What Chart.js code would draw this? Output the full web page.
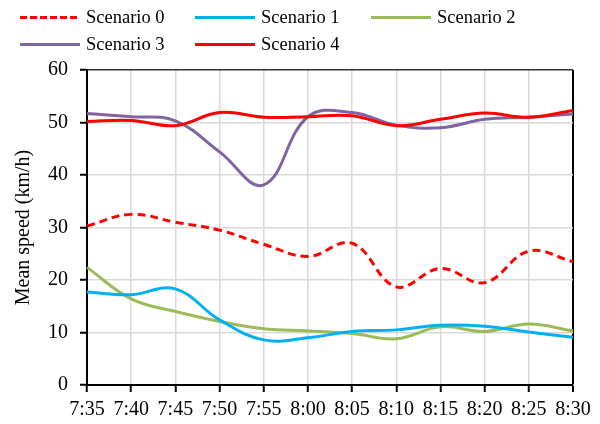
<!DOCTYPE html>
<html>
<head>
<meta charset="utf-8">
<script src="https://cdn.jsdelivr.net/npm/chart.js@4/dist/chart.umd.min.js"></script>
<style>
  body { margin: 0; background: #fff; }
  #wrap { position: relative; width: 600px; height: 424px; }
  #legend {
    position: absolute; left: 20px; top: 6px;
    display: grid; grid-template-columns: 175px 176px 175px; row-gap: 5px;
    font-family: 'Liberation Serif', 'Times New Roman', serif; font-size: 18.5px; color: #000;
  }
  .item { display: flex; align-items: center; height: 22px; white-space: nowrap; }
  .swatch { width: 60px; height: 3px; margin-right: 6px; }
</style>
</head>
<body>
<div id="wrap">
  <canvas id="chart" width="600" height="424"></canvas>
  <div id="legend"></div>
</div>
<script>
// time of day along the x axis
const times = ['7:35', '7:40', '7:45', '7:50', '7:55', '8:00', '8:05', '8:10', '8:15', '8:20', '8:25', '8:30'];

// mean speed (km/h)
const scenario0 = [30.3, 32.5, 31.0, 29.5, 26.8, 24.5, 27.0, 18.7, 22.2, 19.5, 25.5, 23.5];
const scenario1 = [17.7, 17.2, 18.3, 12.4, 8.6, 9.0, 10.2, 10.5, 11.4, 11.2, 10.1, 9.1];
const scenario2 = [22.4, 16.4, 14.0, 12.1, 10.7, 10.3, 9.8, 8.8, 11.1, 10.2, 11.6, 10.3];
const scenario3 = [51.7, 51.1, 50.3, 44.4, 38.1, 51.1, 51.9, 49.5, 49.0, 50.6, 51.0, 51.6];
const scenario4 = [50.2, 50.4, 49.4, 51.9, 51.0, 51.1, 51.3, 49.4, 50.6, 51.8, 51.0, 52.3];

const seriesNames = ['Scenario 0', 'Scenario 1', 'Scenario 2', 'Scenario 3', 'Scenario 4'];
const yTicks = { min: 0, max: 60, step: 10 };

Chart.defaults.font.family = "'Liberation Serif', 'Times New Roman', serif";
Chart.defaults.color = '#000';

function line(name, data, color, dash, order)
{
  return {
    label: name,
    data: data,
    borderColor: color,
    backgroundColor: color,
    borderWidth: 3,
    borderDash: dash,
    pointRadius: 0,
    tension: 0.4,
    fill: false,
    order: order
  };
}

let ctx = document.getElementById('chart').getContext('2d');
let chart = new Chart(ctx,
{
  type: 'line',
  data:
  {
    labels: times,
    datasets: [
      line(seriesNames[0], scenario0, '#FF0000', [8, 5], 1),
      line(seriesNames[1], scenario1, '#00B0F0', [], 1),
      line(seriesNames[2], scenario2, '#9BBB59', [], 1),
      line(seriesNames[3], scenario3, '#8064A2', [], 1),
      line(seriesNames[4], scenario4, '#FF0000', [], 0)
    ]
  },
  options:
  {
    responsive: false,
    animation: false,
    layout: { padding: { top: 70, right: 27, left: 0, bottom: 0 } },
    plugins: { legend: { display: false }, tooltip: { enabled: false } },
    scales:
    {
      x:
      {
        offset: false,
        afterFit: (s) => { s.height = 39; },
        grid:
        {
          color: (c) => c.index === times.length - 1 ? '#000' : '#D9D9D9',
          lineWidth: (c) => c.index === times.length - 1 ? 2 : 1.5,
          tickColor: '#000',
          tickWidth: 2,
          tickLength: 7
        },
        border: { color: '#000', width: 2 },
        ticks: { font: { size: 20 }, padding: 6, maxRotation: 0, autoSkip: false }
      },
      y:
      {
        min: yTicks.min,
        max: yTicks.max,
        afterFit: (s) => { s.width = 87; },
        grid:
        {
          color: (c) => c.tick && c.tick.value === yTicks.max ? '#333' : '#D9D9D9',
          lineWidth: 1.5,
          tickColor: '#000',
          tickWidth: 2,
          tickLength: 7
        },
        border: { color: '#000', width: 2 },
        ticks: { stepSize: yTicks.step, font: { size: 20 }, padding: 12 },
        title:
        {
          display: true,
          text: 'Mean speed (km/h)',
          font: { size: 20 },
          padding: { top: 12, bottom: 0 }
        }
      }
    }
  }
});

// legend in three fixed columns, built from the datasets
let legend = document.getElementById('legend');
chart.data.datasets.forEach((ds) =>
{
  let item = document.createElement('div');
  item.className = 'item';
  let sw = document.createElement('span');
  sw.className = 'swatch';
  if (ds.borderDash.length)
  {
    sw.style.background = 'repeating-linear-gradient(to right, ' + ds.borderColor + ' 0 7px, transparent 7px 10px)';
  }
  else
  {
    sw.style.background = ds.borderColor;
  }
  item.appendChild(sw);
  item.appendChild(document.createTextNode(ds.label));
  legend.appendChild(item);
});
</script>
</body>
</html>
